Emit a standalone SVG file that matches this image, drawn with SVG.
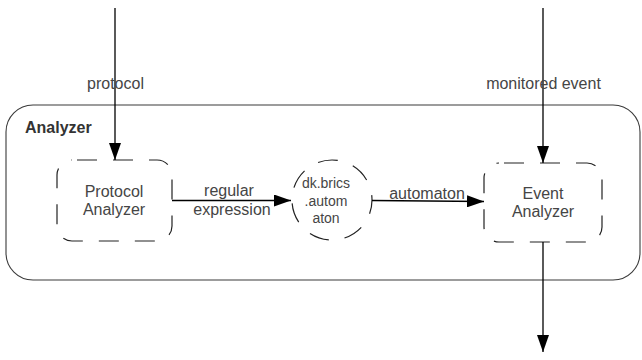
<svg xmlns="http://www.w3.org/2000/svg" width="642" height="360" viewBox="0 0 642 360">
  <defs>
    <style>
      text { font-family: "Liberation Sans", Arial, sans-serif; fill: #454545; }
      .lbl { font-size: 16px; text-anchor: middle; }
      .title { font-size: 16px; font-weight: bold; fill: #333; }
      .small { font-size: 14px; text-anchor: middle; }
      .frame { fill: none; stroke: #3a3a3a; stroke-width: 1.1; }
      .box { fill: none; stroke: #222; stroke-width: 1.2; stroke-dasharray: 20 16; }
      .edge { fill: none; stroke: #000; stroke-width: 1.3; }
    </style>
    <marker id="head" markerWidth="17" markerHeight="12" refX="17" refY="6" orient="auto" markerUnits="userSpaceOnUse">
      <path d="M0,0 L17,6 L0,12 Z" fill="#000"/>
    </marker>
  </defs>

  <rect width="642" height="360" fill="#fff"/>

  <!-- container -->
  <g id="analyzer">
    <rect class="frame" x="6" y="105" width="634" height="175" rx="27" ry="27"/>
    <text class="title" x="25" y="133">Analyzer</text>
  </g>

  <g id="protocol-analyzer">
    <rect class="box" x="57" y="160" width="115" height="81" rx="15" ry="15" stroke-dashoffset="-5"/>
    <text class="lbl" x="114" y="197">Protocol</text>
    <text class="lbl" x="114" y="215">Analyzer</text>
  </g>

  <g id="automaton-lib">
    <circle class="box" cx="332" cy="200" r="40" stroke-dashoffset="6"/>
    <text class="small" x="326" y="188">dk.brics</text>
    <text class="small" x="326" y="206">.autom</text>
    <text class="small" x="326" y="223">aton</text>
  </g>

  <g id="event-analyzer">
    <rect class="box" x="484" y="163" width="118" height="79" rx="15" ry="15" stroke-dashoffset="-5"/>
    <text class="lbl" x="543" y="199">Event</text>
    <text class="lbl" x="543" y="217">Analyzer</text>
  </g>

  <!-- connectors -->
  <g id="connectors">
    <line class="edge" x1="115" y1="8" x2="115" y2="160" marker-end="url(#head)"/>
    <line class="edge" x1="543" y1="8" x2="543" y2="163" marker-end="url(#head)"/>
    <line class="edge" x1="172" y1="200.5" x2="291" y2="200.5" marker-end="url(#head)"/>
    <line class="edge" x1="372" y1="200.5" x2="484" y2="201.5" marker-end="url(#head)"/>
    <line class="edge" x1="543" y1="242" x2="543" y2="352" marker-end="url(#head)"/>
    <text class="lbl" x="115.5" y="89">protocol</text>
    <text class="lbl" x="543.5" y="89">monitored event</text>
    <text class="lbl" x="229" y="196">regular</text>
    <text class="lbl" x="232" y="215">expression</text>
    <text class="lbl" x="427" y="199">automaton</text>
  </g>
</svg>
